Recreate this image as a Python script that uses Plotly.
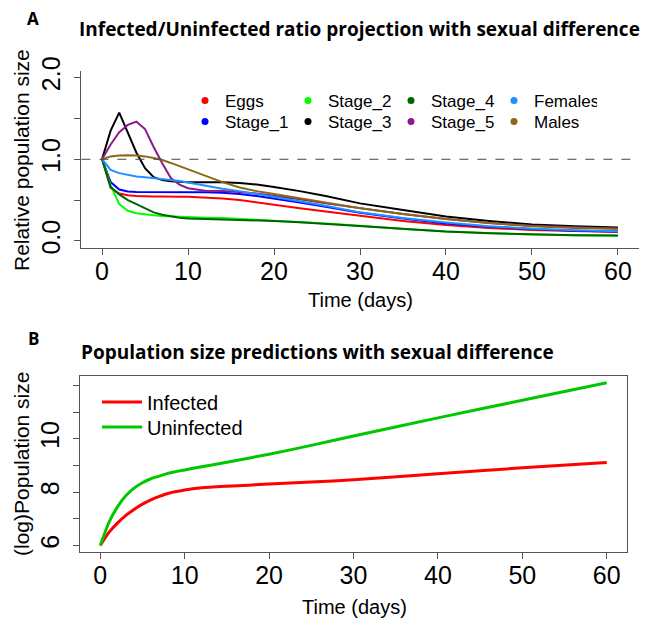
import plotly.graph_objects as go

# ---------------- Panel A data: Infected/Uninfected ratio ----------------
days_a = [0, 1, 2, 3, 4, 5, 6, 7, 8, 9, 10, 12, 14, 16, 18, 20, 23, 26, 30, 35, 40, 45, 50, 55, 60]
eggs    = [1.0, 0.65, 0.58, 0.56, 0.55, 0.545, 0.545, 0.545, 0.54, 0.54, 0.54, 0.53, 0.52, 0.50, 0.47, 0.445, 0.40, 0.36, 0.305, 0.245, 0.195, 0.16, 0.135, 0.12, 0.11]
stage_1 = [1.0, 0.72, 0.63, 0.605, 0.60, 0.60, 0.60, 0.60, 0.60, 0.60, 0.60, 0.595, 0.59, 0.575, 0.55, 0.52, 0.47, 0.42, 0.345, 0.275, 0.215, 0.175, 0.145, 0.125, 0.115]
stage_2 = [1.0, 0.68, 0.45, 0.37, 0.34, 0.325, 0.315, 0.305, 0.30, 0.295, 0.29, 0.285, 0.28, 0.27, 0.26, 0.25, 0.235, 0.215, 0.185, 0.145, 0.115, 0.095, 0.08, 0.07, 0.065]
stage_3 = [1.0, 1.35, 1.57, 1.32, 1.08, 0.89, 0.78, 0.745, 0.73, 0.725, 0.72, 0.72, 0.72, 0.71, 0.69, 0.66, 0.61, 0.55, 0.46, 0.38, 0.30, 0.245, 0.20, 0.18, 0.165]
stage_4 = [1.0, 0.66, 0.57, 0.50, 0.45, 0.40, 0.35, 0.32, 0.30, 0.285, 0.275, 0.27, 0.265, 0.26, 0.255, 0.245, 0.23, 0.21, 0.18, 0.145, 0.115, 0.095, 0.08, 0.07, 0.068]
stage_5 = [1.0, 1.18, 1.33, 1.42, 1.46, 1.37, 1.15, 0.95, 0.77, 0.69, 0.645, 0.615, 0.61, 0.60, 0.58, 0.555, 0.51, 0.46, 0.40, 0.33, 0.27, 0.22, 0.185, 0.165, 0.15]
females = [1.0, 0.87, 0.83, 0.81, 0.79, 0.78, 0.77, 0.76, 0.75, 0.735, 0.715, 0.675, 0.64, 0.61, 0.575, 0.535, 0.48, 0.43, 0.35, 0.28, 0.225, 0.18, 0.15, 0.13, 0.12]
males   = [1.0, 1.035, 1.045, 1.05, 1.045, 1.035, 1.015, 0.99, 0.955, 0.915, 0.875, 0.80, 0.72, 0.655, 0.61, 0.575, 0.525, 0.47, 0.40, 0.33, 0.27, 0.22, 0.18, 0.16, 0.148]

series_names_a = ["Eggs", "Stage_1", "Stage_2", "Stage_3", "Stage_4", "Stage_5", "Females", "Males"]
series_vals_a = [eggs, stage_1, stage_2, stage_3, stage_4, stage_5, females, males]
series_cols_a = ["#FF0000", "#0000FF", "#00FF00", "#000000", "#006400", "#8B1A8B", "#1E90FF", "#8B6914"]
# legend row for each series (reference legend: 2 rows x 4 columns, filled column-wise)
legend_rows_a = ["legend", "legend2", "legend", "legend2", "legend", "legend2", "legend", "legend2"]

# ---------------- Panel B data: (log) population size ----------------
days_b = [0, 1, 2, 3, 4, 5, 6, 7, 8, 10, 12, 15, 20, 25, 30, 40, 50, 60]
infected   = [6.0, 6.48, 6.83, 7.12, 7.35, 7.55, 7.71, 7.84, 7.95, 8.08, 8.16, 8.22, 8.30, 8.38, 8.46, 8.69, 8.91, 9.11]
uninfected = [6.0, 6.85, 7.43, 7.85, 8.15, 8.35, 8.50, 8.60, 8.70, 8.83, 8.95, 9.12, 9.42, 9.75, 10.10, 10.78, 11.44, 12.10]

x_ticks = [0, 10, 20, 30, 40, 50, 60]
ya_ticks = [0, 0.5, 1.0, 1.5, 2.0]
ya_text = ["0.0", "", "1.0", "", "2.0"]
yb_ticks = [6, 7, 8, 9, 10, 11, 12]
yb_text = ["6", "", "8", "", "10", "", ""]

W, H = 654, 621
def fx(p):
    return p / W
def fy(p):
    return 1 - p / H

SANS = "Liberation Sans, Arial, sans-serif"
TICKF = dict(family=SANS, size=25, color="#000")
LABF = dict(family=SANS, size=21, color="#000")
TITF = dict(family="Open Sans, sans-serif", size=19, color="#000")
AXC = "#555555"

fig = go.Figure()

for name, vals, col, lg in zip(series_names_a, series_vals_a, series_cols_a, legend_rows_a):
    fig.add_trace(go.Scatter(x=days_a, y=vals, mode="lines", line=dict(color=col, width=2),
                             showlegend=False, xaxis="x", yaxis="y", hoverinfo="skip"))
    fig.add_trace(go.Scatter(x=[None], y=[None], mode="markers", name=name,
                             marker=dict(color=col, size=7), legend=lg, xaxis="x", yaxis="y"))

fig.add_trace(go.Scatter(x=days_b, y=infected, mode="lines", name="Infected",
                         line=dict(color="#FF0000", width=3, shape="spline", smoothing=0.6),
                         legend="legend3", xaxis="x2", yaxis="y2"))
fig.add_trace(go.Scatter(x=days_b, y=uninfected, mode="lines", name="Uninfected",
                         line=dict(color="#00C800", width=3, shape="spline", smoothing=0.6),
                         legend="legend4", xaxis="x2", yaxis="y2"))

common_ax = dict(showgrid=False, zeroline=False, showline=True, linecolor=AXC, linewidth=1.2,
                 ticks="outside", ticklen=6, tickcolor=AXC, tickfont=TICKF)

legA = dict(bgcolor="rgba(0,0,0,0)", orientation="h", xanchor="left", yanchor="middle",
            itemwidth=30, entrywidth=58, entrywidthmode="pixels",
            font=dict(family=SANS, size=17, color="#000"))
legB = dict(bgcolor="rgba(0,0,0,0)", orientation="h", xanchor="left", yanchor="middle",
            itemwidth=40, font=dict(family=SANS, size=20, color="#000"))

fig.update_layout(
    width=W, height=H,
    margin=dict(l=0, r=0, t=0, b=0, autoexpand=False),
    paper_bgcolor="white", plot_bgcolor="white",
    xaxis=dict(domain=[fx(81.4), fx(638.6)], anchor="y", range=[-2.4, 62.4],
               tickvals=x_ticks, **common_ax),
    yaxis=dict(domain=[fy(247.5), fy(71)], anchor="x", range=[-0.08, 2.08],
               tickvals=ya_ticks, ticktext=ya_text, tickangle=-90, ticklabelstandoff=4, **common_ax),
    xaxis2=dict(domain=[fx(80), fx(627)], anchor="y2", range=[-2.4, 62.4],
                tickvals=x_ticks, mirror=True, **common_ax),
    yaxis2=dict(domain=[fy(552), fy(376)], anchor="x2", range=[5.756, 12.35],
                tickvals=yb_ticks, ticktext=yb_text, tickangle=-90, ticklabelstandoff=4,
                mirror=True, **common_ax),
    legend=dict(x=fx(185), y=fy(101), **legA),
    legend2=dict(x=fx(185), y=fy(122), **legA),
    legend3=dict(x=fx(97), y=fy(402), **legB),
    legend4=dict(x=fx(97), y=fy(427), **legB),
    shapes=[dict(type="line", xref="x domain", yref="y", x0=0, x1=1, y0=1, y1=1,
                 line=dict(color="#444444", width=1.2, dash="dash"))],
    showlegend=True,
)

# pull the x tick labels slightly closer to the axis (as in the reference)
for ax in ("xaxis", "xaxis2"):
    try:
        fig.layout[ax].ticklabelstandoff = -5
    except Exception:
        pass

ann = [
    dict(text="<b>A</b>", x=fx(33), y=fy(18), font=dict(family="Open Sans, sans-serif", size=17, color="#000")),
    dict(text="<b>Infected/Uninfected ratio projection with sexual difference</b>", x=fx(77), y=fy(29),
         xanchor="left", font=TITF),
    dict(text="<b>B</b>", x=fx(33), y=fy(338), font=dict(family="Open Sans, sans-serif", size=17, color="#000")),
    dict(text="<b>Population size predictions with sexual difference</b>", x=fx(79), y=fy(352),
         xanchor="left", font=TITF),
    dict(text="Relative population size", x=fx(21), y=fy(160), textangle=-90, font=LABF),
    dict(text="Time (days)", x=fx(360), y=fy(300), font=dict(LABF, size=20)),
    dict(text="(log)Population size", x=fx(21), y=fy(464), textangle=-90, font=LABF),
    dict(text="Time (days)", x=fx(354), y=fy(607), font=dict(LABF, size=20)),
]
for a in ann:
    a.update(xref="paper", yref="paper", showarrow=False)
    a.setdefault("xanchor", "center")
    a.setdefault("yanchor", "middle")
fig.update_layout(annotations=ann)

fig.write_html("out.html", config={"displayModeBar": False},
               post_script="document.body.style.margin='0px';")
